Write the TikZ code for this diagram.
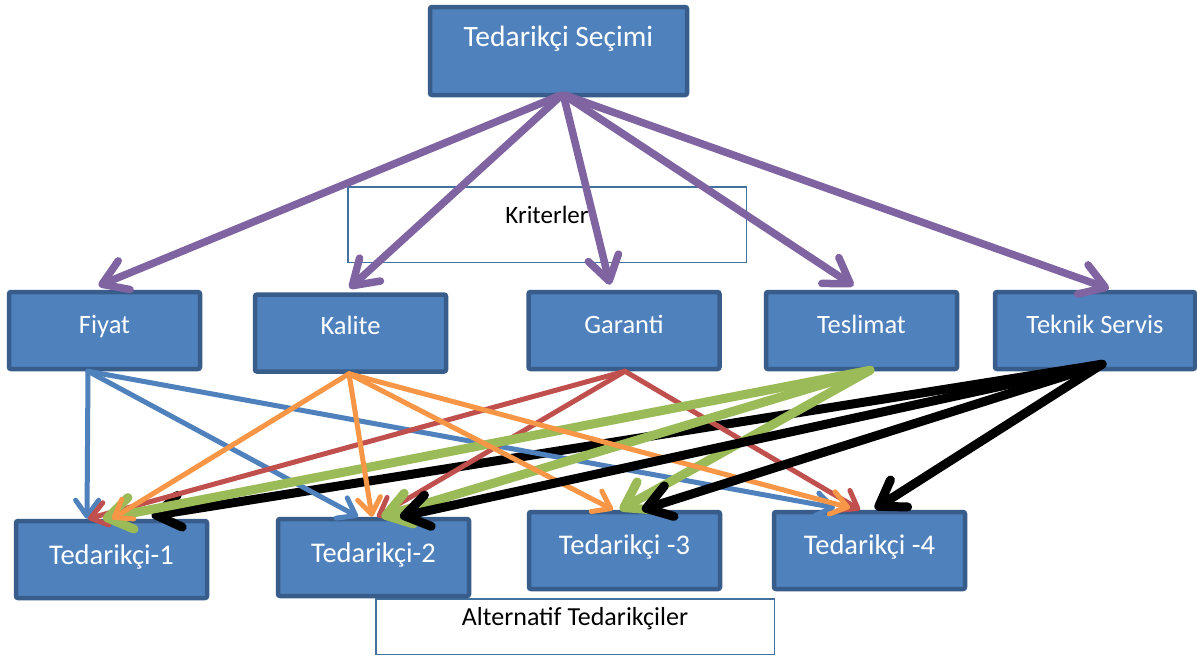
\documentclass[tikz,border=0pt]{standalone}
\usepackage{fontspec}
\setmainfont{Carlito}
\usetikzlibrary{arrows.meta}
\definecolor{boxfill}{HTML}{4F81BD}
\definecolor{boxline}{HTML}{385D8A}
\definecolor{capline}{HTML}{41719C}
\definecolor{cpurp}{HTML}{8064A2}
\definecolor{cblue}{HTML}{4F81BD}
\definecolor{corange}{HTML}{F79646}
\definecolor{cred}{HTML}{C0504D}
\definecolor{cgreen}{HTML}{9BBB59}
\begin{document}
\begin{tikzpicture}[x=1pt,y=-1pt,
  bluebox/.style={draw=boxline, fill=boxfill, line width=4.5pt, rounded corners=2pt,
    text=white, font=\fontsize{26.5}{30}\selectfont, inner sep=0pt, text height=20pt,
    minimum width=191pt, minimum height=77pt},
  supbox/.style={bluebox, font=\fontsize{28.5}{32}\selectfont},
  capbox/.style={draw=capline, line width=1.5pt,
    inner sep=0pt, text height=20pt, minimum width=398.5pt},
  thinarrow/.style={line width=5pt, line cap=round, -{Straight Barb[round,length=16pt,width=23pt]}},
  thickarrow/.style={line width=9pt, line cap=round, -{Straight Barb[round,length=24pt,width=32pt]}},
  purparrow/.style={draw=cpurp, line width=7.5pt, line cap=round, -{Straight Barb[round,length=24pt,width=31pt]}}
]
\fill[white] (0,0) rectangle (1197,657);
\useasboundingbox (0,0) rectangle (1197,657);

% title
\node[bluebox, font=\fontsize{29.5}{34}\selectfont, minimum width=257pt, minimum height=88pt, text depth=29pt] (top) at (558.5,51) {Tedarikçi Seçimi};

% captions
\node[capbox, font=\fontsize{25}{29}\selectfont, minimum height=75.5pt, text depth=22pt] (krit) at (547,224.5) {Kriterler};
\node[capbox, font=\fontsize{26}{30}\selectfont, minimum height=55.5pt, text depth=23pt] (alt) at (575,626.5) {Alternatif Tedarikçiler};

% criteria
\node[bluebox, text depth=15pt] (fiyat) at (104.5,330.5) {Fiyat};
\node[bluebox, text depth=18pt] (kalite) at (350.5,333) {Kalite};
\node[bluebox, text depth=15pt] (garanti) at (624,330.5) {Garanti};
\node[bluebox, text depth=15pt] (teslimat) at (861.5,330.5) {Teslimat};
\node[bluebox, minimum width=200pt, text depth=15pt] (teknik) at (1095,330.5) {Teknik Servis};

% suppliers
\node[supbox, text depth=10pt] (t1) at (111.5,559.5) {Tedarikçi-1};
\node[supbox, text depth=10pt] (t2) at (373.5,557.5) {Tedarikçi-2};
\node[supbox, text depth=12pt] (t3) at (624.5,550.5) {Tedarikçi -3};
\node[supbox, text depth=12pt] (t4) at (869.5,550.5) {Tedarikçi -4};

% purple arrows
\draw[purparrow] ([xshift=2pt,yshift=2pt]top.south) -- ([xshift=-6pt,yshift=4pt]fiyat.north);
\draw[purparrow] ([xshift=3pt,yshift=2pt]top.south) -- ([xshift=-1pt,yshift=4pt]kalite.north);
\draw[purparrow] ([xshift=5pt,yshift=2pt]top.south) -- ([xshift=-14pt,yshift=5pt]garanti.north);
\draw[purparrow] ([xshift=6pt,yshift=2pt]top.south) -- ([xshift=-8pt,yshift=4pt]teslimat.north);
\draw[purparrow] ([xshift=7pt,yshift=2pt]top.south) -- ([xshift=14pt,yshift=1pt]teknik.north);

% Teknik Servis -> T1 (underneath)
\draw[thickarrow, black] ([xshift=7pt,yshift=7pt]teknik.south) -- ([xshift=40pt,yshift=3pt]t1.north);

% Fiyat (blue)
\draw[thinarrow, cblue] ([xshift=-16.5pt]fiyat.south) -- ([xshift=-24.5pt]t1.north);
\draw[thinarrow, cblue] ([xshift=-16.5pt]fiyat.south) -- ([xshift=-15.5pt]t2.north);
\draw[thinarrow, cblue] ([xshift=-16.5pt]fiyat.south) -- ([xshift=-34.5pt,yshift=2pt]t4.north);

% Garanti (red)
\draw[thinarrow, cred] ([xshift=1pt]garanti.south) -- ([xshift=-23.5pt]t1.north);
\draw[thinarrow, cred] ([xshift=1pt]garanti.south) -- ([xshift=3.5pt]t2.north);
\draw[thinarrow, cred] ([xshift=1pt]garanti.south) -- ([xshift=-9.5pt]t4.north);

% Teslimat (green)
\draw[thickarrow, cgreen] ([xshift=8.5pt,yshift=1pt]teslimat.south) -- ([xshift=-8.5pt]t1.north);
\draw[thickarrow, cgreen] ([xshift=8.5pt,yshift=1pt]teslimat.south) -- ([xshift=8pt]t2.north);
\draw[thickarrow, cgreen] ([xshift=8.5pt,yshift=1pt]teslimat.south) -- ([xshift=-4.5pt]t3.north);

% Kalite (orange)
\draw[thinarrow, corange] ([xshift=-1.5pt]kalite.south) -- ([xshift=0.5pt]t1.north);
\draw[thinarrow, corange] ([xshift=-1.5pt]kalite.south) -- ([xshift=-1.5pt]t2.north);
\draw[thinarrow, corange] ([xshift=-1.5pt]kalite.south) -- ([xshift=-11.5pt]t3.north);
\draw[thinarrow, corange] ([xshift=-1.5pt]kalite.south) -- ([xshift=-19.5pt,yshift=2pt]t4.north);

% Teknik Servis (black)
\draw[thickarrow, black] ([xshift=7pt,yshift=7pt]teknik.south) -- ([xshift=26.5pt]t2.north);
\draw[thickarrow, black] ([xshift=7pt,yshift=7pt]teknik.south) -- ([xshift=17.5pt]t3.north);
\draw[thickarrow, black] ([xshift=7pt,yshift=7pt]teknik.south) -- ([xshift=5.5pt,yshift=1pt]t4.north);
\end{tikzpicture}
\end{document}
